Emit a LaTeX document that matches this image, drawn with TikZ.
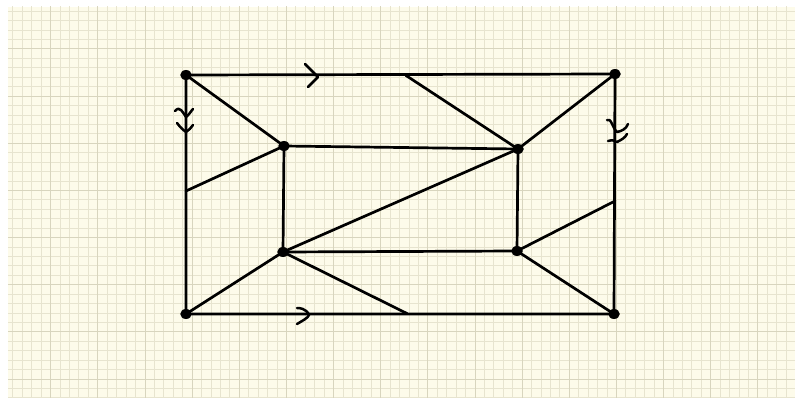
\documentclass[tikz,border=0pt]{standalone}
\usetikzlibrary{calc,shapes.geometric}
\definecolor{paper}{HTML}{FDFBEA}
\definecolor{gridminor}{HTML}{E7E4CF}
\definecolor{gridmajor}{HTML}{D8D5BE}
\tikzset{
  edge/.style={line width=2.7pt, black, line cap=round},
  dot/.style={ellipse, fill=black, inner sep=0pt, minimum width=11.5pt, minimum height=10pt},
  chev/.style={line width=2.5pt, black, line cap=round, line join=round},
}
\begin{document}
\begin{tikzpicture}[x=1pt,y=-1pt]
\useasboundingbox (0,0) rectangle (795,398);
\fill[white] (0,0) rectangle (795,398);
\fill[paper] (8,7) rectangle (795,398);
\begin{scope}
\clip (8,7) rectangle (795,398);
\foreach \i in {-4,...,80} {
  \pgfmathsetmacro{\xx}{50.7+\i*9.43}
  \draw[gridminor, line width=1pt] (\xx,0) -- (\xx,398);
}
\foreach \j in {-5,...,38} {
  \pgfmathsetmacro{\yy}{49+\j*9.43}
  \draw[gridminor, line width=1pt] (0,\yy) -- (795,\yy);
}
\foreach \i in {0,...,16} {
  \pgfmathsetmacro{\xx}{50.7+\i*47.15}
  \draw[gridmajor, line width=1pt] (\xx,0) -- (\xx,398);
}
\foreach \j in {-1,...,8} {
  \pgfmathsetmacro{\yy}{49+\j*47.15}
  \draw[gridmajor, line width=1pt] (0,\yy) -- (795,\yy);
}
\end{scope}

% vertices
\node[dot] (TL) at (186,75) {};
\node[dot] (TR) at (615,74) {};
\node[dot] (BL) at (186,314) {};
\node[dot] (BR) at (614,314) {};
\node[dot] (ITL) at (284,146) {};
\node[dot] (ITR) at (518,149) {};
\node[dot] (IBL) at (283,252) {};
\node[dot] (IBR) at (517,251) {};
\coordinate (T1) at (406,75.5);
\coordinate (B1) at (407,313.5);
\coordinate (L1) at (186,191);
\coordinate (R1) at (615,201);

% outer rectangle
\draw[edge] (TL.center) -- (TR.center) -- (BR.center) -- (BL.center) -- cycle;
% inner rectangle
\draw[edge] (ITL.center) -- (ITR.center) -- (IBR.center) -- (IBL.center) -- cycle;
% connectors
\draw[edge] (TL.center) -- (ITL.center);
\draw[edge] (L1) -- (ITL.center);
\draw[edge] (T1) -- (ITR.center);
\draw[edge] (TR.center) -- (ITR.center);
\draw[edge] (IBL.center) -- (ITR.center);
\draw[edge] (R1) -- (IBR.center);
\draw[edge] (BL.center) -- (IBL.center);
\draw[edge] (IBL.center) -- (B1);
\draw[edge] (IBR.center) -- (BR.center);

% arrow marks
\draw[chev] (305,64) -- (318,77) -- (308,87);
\draw[chev] (297,308) .. controls (306,308) and (309,314) .. (309,315) .. controls (308,318) and (302,321) .. (297,324);
\draw[chev] (175,111) .. controls (180,105) and (183,113) .. (186,117) .. controls (189,115) and (191,111) .. (193,109);
\draw[chev] (177,123) .. controls (180,127) and (183,130) .. (186,132) .. controls (189,130) and (191,128) .. (193,125);
\draw[chev] (607,120) .. controls (611,117) and (613,129) .. (617,132) .. controls (622,131) and (626,129) .. (628,124);
\draw[chev] (608,141) .. controls (612,140) and (614,140) .. (617,142) .. controls (621,140) and (625,138) .. (627,134);
\end{tikzpicture}
\end{document}
